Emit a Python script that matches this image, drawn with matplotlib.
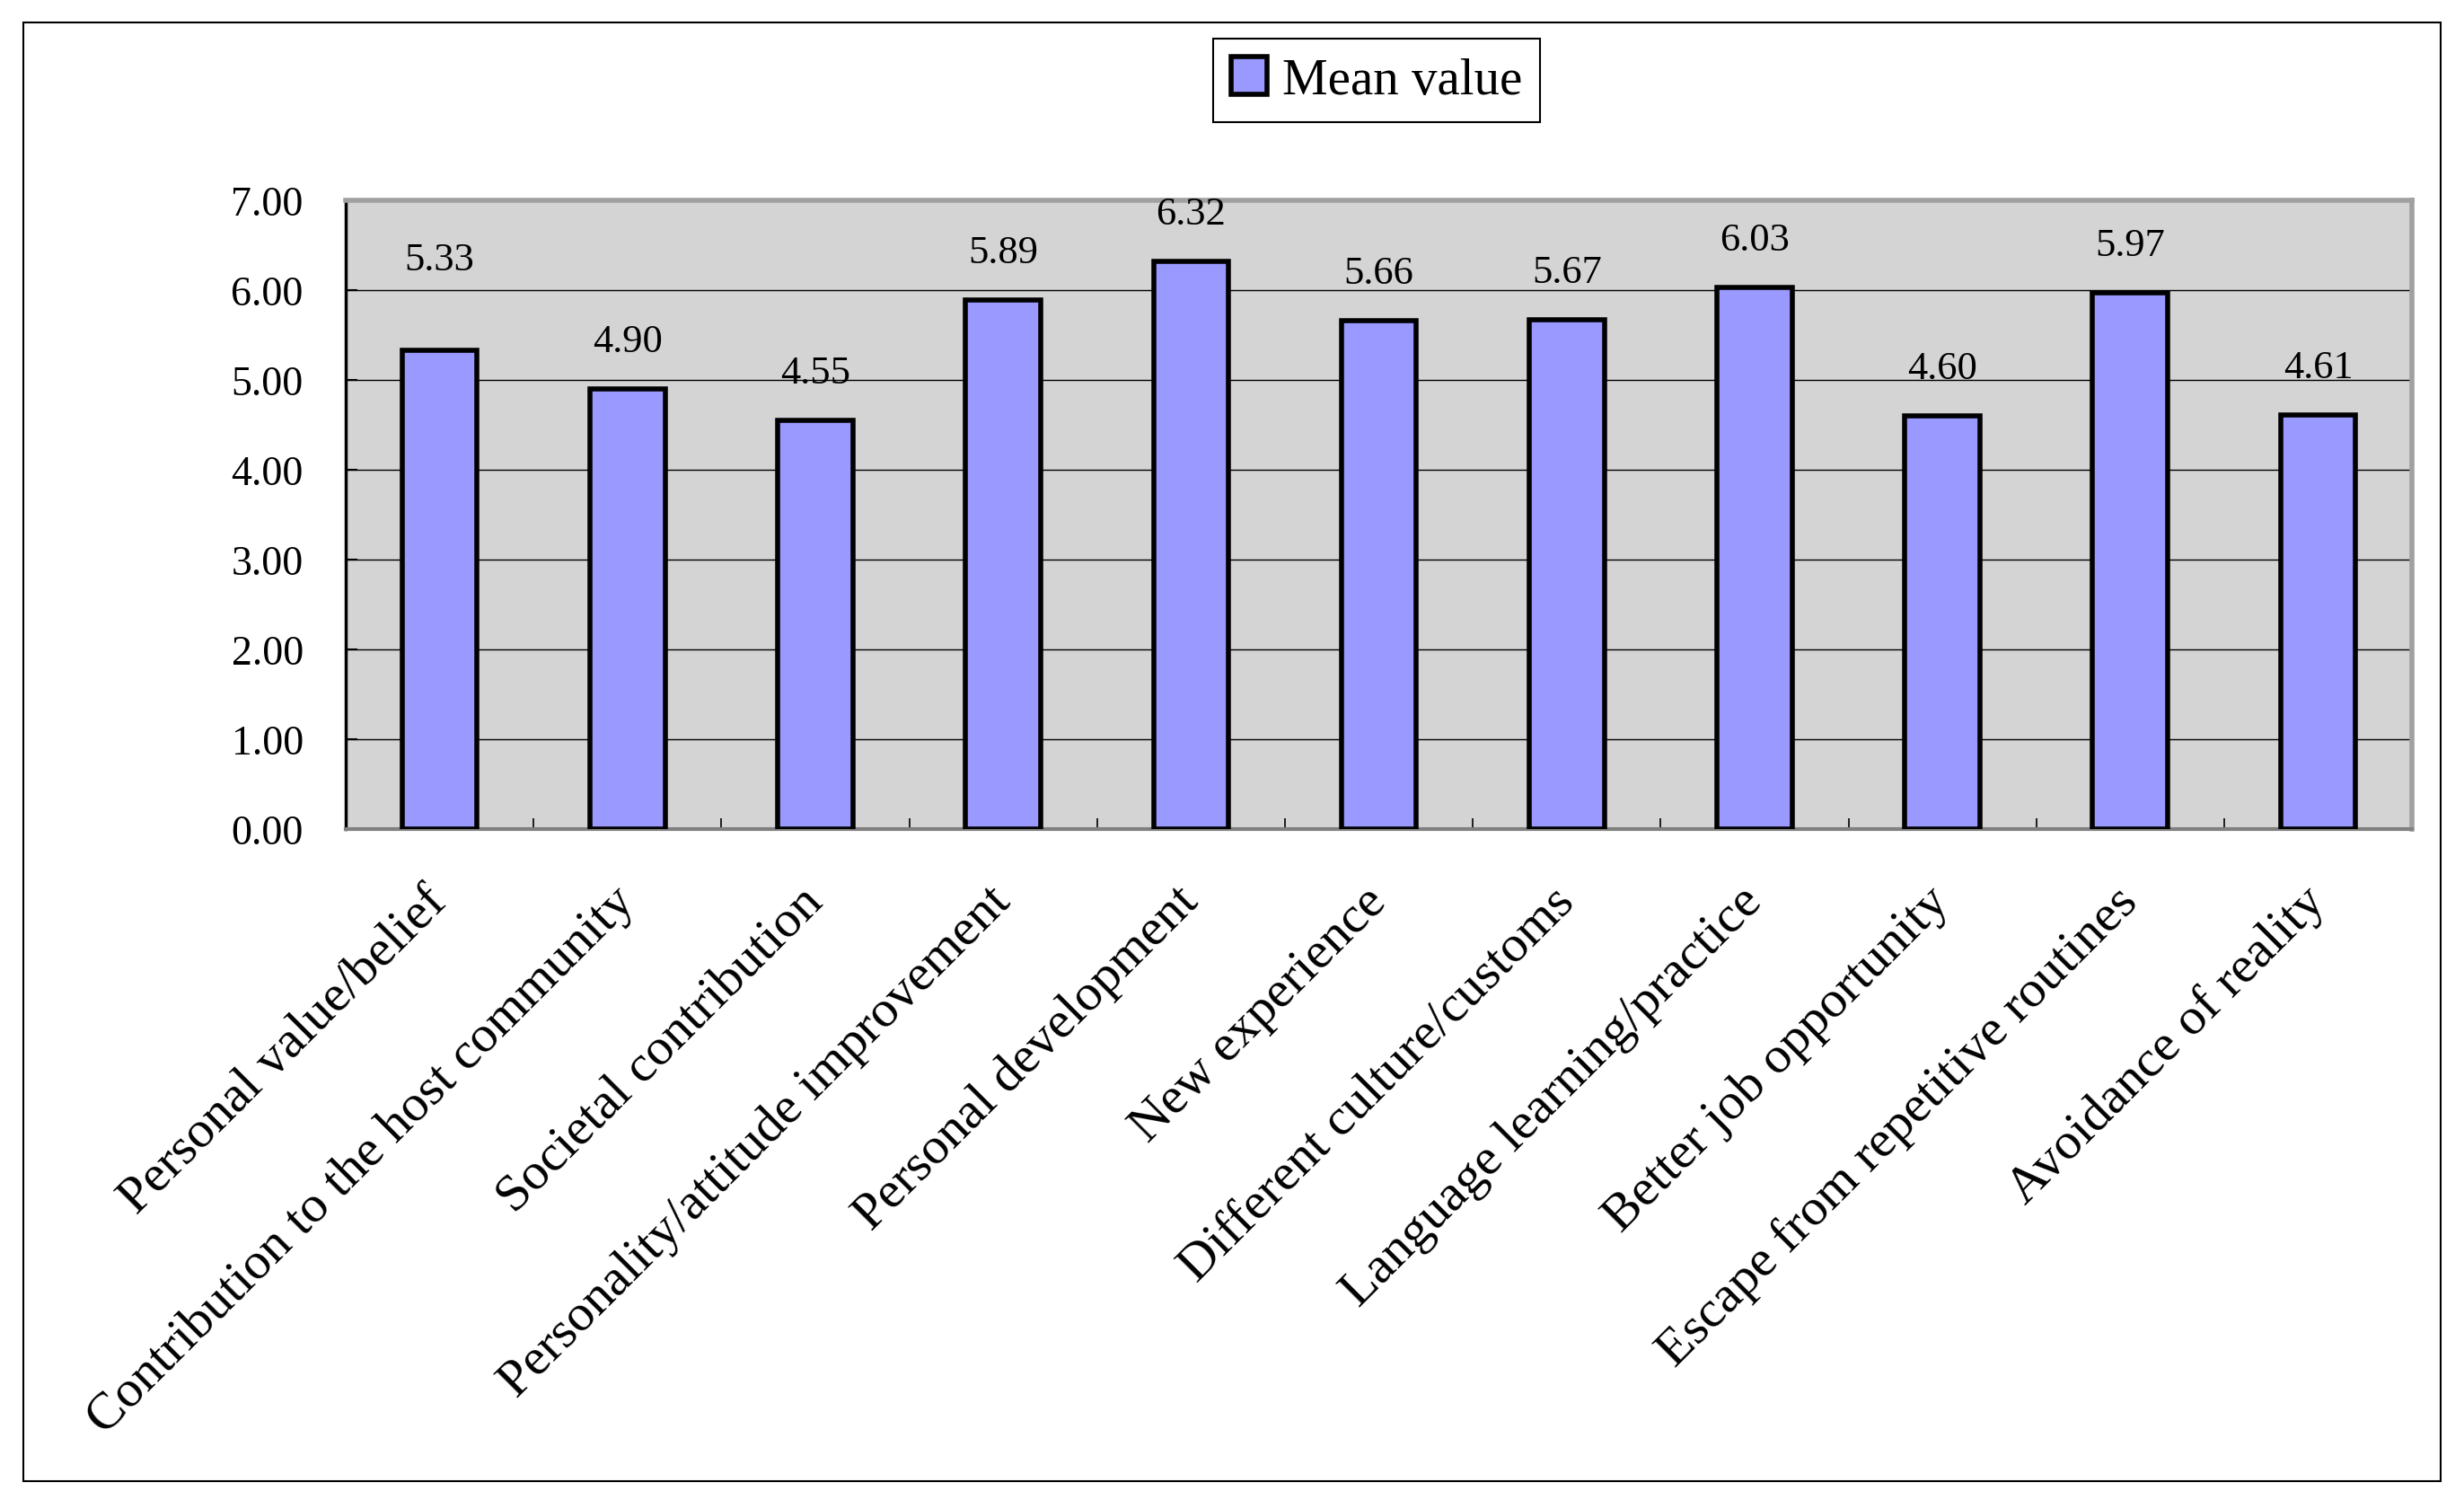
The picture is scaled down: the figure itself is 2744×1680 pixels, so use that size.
import numpy as np
import matplotlib.pyplot as plt
from matplotlib.patches import Rectangle

plt.rcParams['font.family'] = ['Liberation Serif', 'DejaVu Serif']

categories = ['Personal value/belief', 'Contribution to the host community',
              'Societal contribution', 'Personality/attitude improvement',
              'Personal development', 'New experience', 'Different culture/customs',
              'Language learning/practice', 'Better job opportunity',
              'Escape from repetitive routines', 'Avoidance of reality']
mean_values = [5.33, 4.90, 4.55, 5.89, 6.32, 5.66, 5.67, 6.03, 4.60, 5.97, 4.61]
yticks = [0, 1, 2, 3, 4, 5, 6, 7]

fig = plt.figure(figsize=(27.44, 16.81), dpi=100)
ax = fig.add_axes([0.1403, 0.4503, 0.8386, 0.4164])
ax.set_facecolor('#D4D4D4')

x = np.arange(len(categories))
bars = ax.bar(x, mean_values, width=0.4, color='#9999FF', edgecolor='black',
              linewidth=4, label='Mean value', zorder=3)

# value labels, the first one sits higher in the original
for i, v in enumerate(mean_values):
    off = 73 if i == 0 else 38
    ax.annotate('%.2f' % v, (x[i], v), xytext=(0, off), textcoords='offset points',
                ha='center', va='center', fontsize=32)

ax.set_xlim(-0.5, len(categories) - 0.5)
ax.set_ylim(0, 7)
ax.set_yticks(yticks)
ax.set_yticklabels(['%.2f' % t for t in yticks], fontsize=33)
ax.yaxis.grid(True, color='black', linewidth=1.0, zorder=0)
ax.set_axisbelow(True)

ax.set_xticks(x)
ax.set_xticklabels(categories, fontsize=42, rotation=45, ha='right',
                   va='center', rotation_mode='anchor')
ax.set_xticks(np.arange(0.5, len(categories), 1), minor=True)
ax.tick_params(axis='x', which='major', length=0, pad=52)
ax.tick_params(axis='x', which='minor', direction='in', length=9, width=1.2)
ax.tick_params(axis='y', direction='in', length=9, width=1.5, pad=34)

ax.spines['left'].set_color('black')
ax.spines['left'].set_linewidth(2.5)
ax.spines['bottom'].set_color('#808080')
ax.spines['bottom'].set_linewidth(3)
ax.spines['top'].set_color('#A0A0A0')
ax.spines['top'].set_linewidth(4)
ax.spines['right'].set_color('#A0A0A0')
ax.spines['right'].set_linewidth(4)

leg = fig.legend(handles=[bars], labels=['Mean value'], loc='center',
                 bbox_to_anchor=(0.5587, 0.946), fontsize=41, fancybox=False,
                 edgecolor='black', framealpha=1, handlelength=0.7,
                 handleheight=0.75, handletextpad=0.3, borderpad=0.35)
leg.get_frame().set_linewidth(1.5)

fig.patches.append(Rectangle((0.0095, 0.0184), 0.981, 0.9661, transform=fig.transFigure,
                             fill=False, edgecolor='black', linewidth=1.5))

fig.savefig('out.png', dpi=100)
